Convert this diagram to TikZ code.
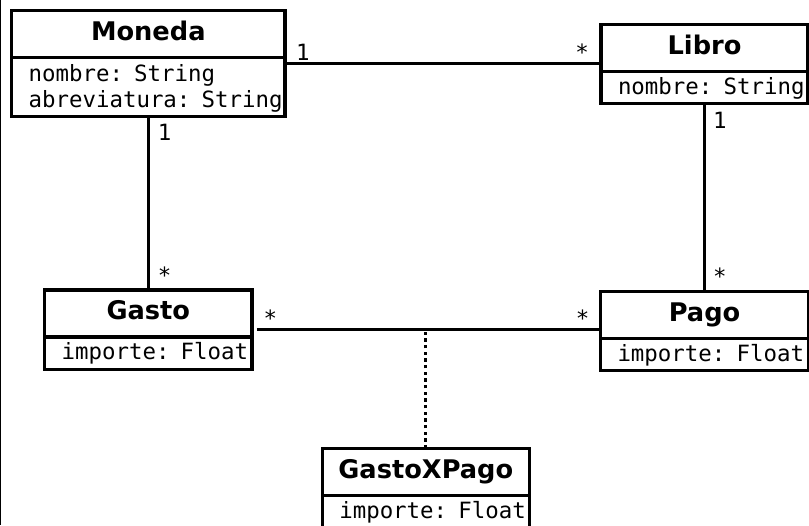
\documentclass[tikz,border=0pt]{standalone}
\usepackage{fontspec}
\setsansfont{DejaVu Sans}
\newfontfamily\monofont{DejaVu Sans Mono}
\usepackage{tikz}
\usetikzlibrary{shapes.multipart,positioning}

\newlength\px
\setlength\px{0.75pt}
\newcommand{\attrfont}{\monofont\fontsize{16.8pt}{19.5pt}\selectfont\spaceskip=0.602em\relax}
\newcommand{\headfont}{\sffamily\bfseries\fontsize{19.25pt}{22pt}\selectfont}
\newcommand{\clsname}[1]{\hbox to\hsize{\hfil\headfont\rule[-15.5\px]{0pt}{43.7\px}#1\hfil}}
\newcommand{\attr}[1]{\noindent\hspace*{17\px}#1}

\begin{document}
\begin{tikzpicture}[x=0.75pt,y=-0.75pt,
  clase/.style={draw, line width=2.5pt, rectangle split, rectangle split parts=2,
    inner sep=0pt, outer sep=0pt, align=left, font=\attrfont},
  mult/.style={font=\attrfont, inner sep=0pt},
  asoc/.style={line width=2.5pt}]
  \useasboundingbox (0,0) rectangle (809,525);
  \draw[line width=0.9pt] (0.6,0) -- (0.6,525);

  \node [clase, text width=273.3\px, anchor=north] (mon) at (148.3,10.7)
    {\clsname{Moneda}
     \nodepart{two}\attr{\rule{0pt}{21.8\px}nombre: String}\\
     \attr{abreviatura: String\rule[-7.8\px]{0pt}{7.8\px}}};
  \node [clase, text width=207\px, anchor=north] (lib) at (704.5,24.3)
    {\clsname{Libro}
     \nodepart{two}\attr{\rule[-7.8\px]{0pt}{29.1\px}nombre: String}};
  \node [clase, text width=207.3\px, below=173.3\px of mon] (gas)
    {\clsname{Gasto}
     \nodepart{two}\attr{\rule[-7.8\px]{0pt}{29.1\px}importe: Float}};
  \node [clase, text width=208\px, below=187.4\px of lib] (pag)
    {\clsname{Pago}
     \nodepart{two}\attr{\rule[-7.8\px]{0pt}{29.1\px}importe: Float}};
  \node [clase, text width=207\px, anchor=north] (gxp) at (425.8,448.3)
    {\clsname{GastoXPago}
     \nodepart{two}\attr{\rule[-7.8\px]{0pt}{29.1\px}importe: Float}};

  \path[asoc] (mon.east) edge
    node[mult, pos=0, anchor=base west, xshift=9.5\px, yshift=3.5\px] {1}
    node[mult, pos=1, anchor=base east, xshift=-10.5\px, yshift=3.5\px] {*}
    (mon.east -| lib.west);
  \path[asoc] (mon.south) edge
    node[mult, pos=0, anchor=base west, xshift=8\px, yshift=-24\px] {1}
    node[mult, pos=1, anchor=base west, xshift=8\px, yshift=6.5\px] {*}
    (mon.south |- gas.north);
  \path[asoc] (lib.south) edge
    node[mult, pos=0, anchor=base west, xshift=7\px, yshift=-24.5\px] {1}
    node[mult, pos=1, anchor=base west, xshift=7\px, yshift=7\px] {*}
    (lib.south |- pag.north);
  \path[asoc] (gas.east) edge[shorten <=5\px]
    node[mult, pos=0, anchor=base west, xshift=10\px, yshift=3.5\px] {*}
    node[mult, pos=1, anchor=base east, xshift=-9.5\px, yshift=3.5\px] {*}
    (gas.east -| pag.west);
  \path[asoc] (gxp.north) edge[dash pattern=on 2.5pt off 2.5pt] (gxp.north |- gas.east);
\end{tikzpicture}
\end{document}
